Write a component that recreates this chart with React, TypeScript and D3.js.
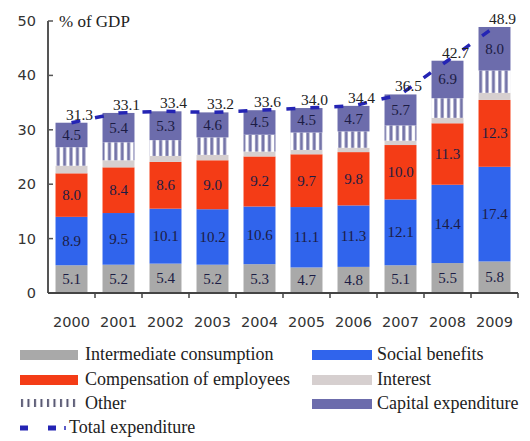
import React from "react";
import * as d3 from "d3";

const years = ["2000","2001","2002","2003","2004","2005","2006","2007","2008","2009"];
const intermediate = [5.1,5.2,5.4,5.2,5.3,4.7,4.8,5.1,5.5,5.8];
const social = [8.9,9.5,10.1,10.2,10.6,11.1,11.3,12.1,14.4,17.4];
const compensation = [8.0,8.4,8.6,9.0,9.2,9.7,9.8,10.0,11.3,12.3];
const interest = [1.4,1.3,1.1,1.0,0.9,0.8,0.8,0.8,1.0,1.3];
const other = [3.4,3.3,2.9,3.2,3.1,3.2,3.0,2.8,3.6,4.1];
const capital = [4.5,5.4,5.3,4.6,4.5,4.5,4.7,5.7,6.9,8.0];
const total = [31.3,33.1,33.4,33.2,33.6,34.0,34.4,36.5,42.7,48.9];
const yTicks = [0,10,20,30,40,50];

const W = 530, H = 441;
const serif = "'Liberation Serif', 'Times New Roman', serif";
const sans = "'DejaVu Sans', Verdana, sans-serif";

const seriesDefs = [
  { key: "Intermediate consumption", values: intermediate, fill: "#a9a9a9", label: true },
  { key: "Social benefits", values: social, fill: "#3064ec", label: true },
  { key: "Compensation of employees", values: compensation, fill: "#f43c16", label: true },
  { key: "Interest", values: interest, fill: "#d6cfcf", label: false },
  { key: "Other", values: other, fill: "url(#hatch)", label: false },
  { key: "Capital expenditure", values: capital, fill: "#6c6cac", label: true },
];

export default function App() {
  const x = d3.scaleBand<string>().domain(years).range([48, 518]).paddingInner(0.32).paddingOuter(0.16);
  const y = d3.scaleLinear().domain([0, 50]).range([293, 21]);
  const bw = x.bandwidth();
  const step = x.step();

  const rows = years.map((yr, i) => {
    const o: any = { year: yr };
    seriesDefs.forEach(s => (o[s.key] = s.values[i]));
    return o;
  });
  const stacked = d3.stack<any>().keys(seriesDefs.map(s => s.key))(rows);

  const line = d3.line<number>()
    .x((_, i) => (x(years[i]) as number) + bw / 2)
    .y(d => y(d));

  const legend = [
    { key: "Intermediate consumption", col: 0, row: 0, fill: "#a9a9a9" },
    { key: "Social benefits", col: 1, row: 0, fill: "#3064ec" },
    { key: "Compensation of employees", col: 0, row: 1, fill: "#f43c16" },
    { key: "Interest", col: 1, row: 1, fill: "#d6cfcf" },
    { key: "Other", col: 0, row: 2, fill: "url(#hatchLeg)" },
    { key: "Capital expenditure", col: 1, row: 2, fill: "#6c6cac" },
  ];
  const rowY = [355, 380, 404, 428];
  const colX = [20, 312];

  return (
    <svg width={W} height={H} style={{ position: "absolute", left: 0, top: 0, background: "#fff" }}>
      <defs>
        <pattern id="hatch" patternUnits="userSpaceOnUse" width={6.4} height={10} x={x(years[0]) as number}>
          <rect width={6.4} height={10} fill="#ffffff" />
          <rect x={1.2} width={3} height={10} fill="#7474a8" />
        </pattern>
        <pattern id="hatchLeg" patternUnits="userSpaceOnUse" width={6.5} height={10} x={20}>
          <rect width={6.5} height={10} fill="#ffffff" />
          <rect x={1} width={2} height={10} fill="#555570" />
        </pattern>
      </defs>
      <rect width={W} height={H} fill="#fff" />

      {stacked.map((layer, li) => (
        <g key={layer.key}>
          {layer.map((d, i) => (
            <rect key={i} x={x(years[i])} y={y(d[1])} width={bw} height={y(d[0]) - y(d[1])} fill={seriesDefs[li].fill} />
          ))}
        </g>
      ))}

      {stacked.map((layer, li) =>
        seriesDefs[li].label ? (
          <g key={"l" + layer.key}>
            {layer.map((d, i) => (
              <text key={i} x={(x(years[i]) as number) + bw / 2} y={(y(d[0]) + y(d[1])) / 2 + 5}
                textAnchor="middle" fontFamily={serif} fontSize={15} fill="#1c1c44">
                {seriesDefs[li].values[i].toFixed(1)}
              </text>
            ))}
          </g>
        ) : null
      )}

      <path d={line(total) || ""} fill="none" stroke="#2424b4" strokeWidth={3.5} strokeDasharray="9 15" />
      {total.map((t, i) => (
        <text key={i} x={(x(years[i]) as number) + bw / 2 + 8} y={y(t) - 3} textAnchor="middle"
          fontFamily={serif} fontSize={15.5} fill="#222">
          {t.toFixed(1)}
        </text>
      ))}

      <line x1={48} x2={48} y1={y(0)} y2={y(50)} stroke="#555" strokeWidth={2} />
      {yTicks.map(t => (
        <g key={t}>
          <line x1={48} x2={53} y1={y(t)} y2={y(t)} stroke="#555" strokeWidth={1.5} />
          <text x={36} y={y(t) + 5} textAnchor="end" fontFamily={sans} fontSize={14.5} fill="#333">{t}</text>
        </g>
      ))}
      <text x={59} y={27} fontFamily={serif} fontSize={17} fill="#222">% of GDP</text>

      <line x1={48} x2={518} y1={y(0)} y2={y(0)} stroke="#444" strokeWidth={2} />
      {years.map((yr, i) => (
        <g key={yr}>
          <line x1={48 + step * (i + 1)} x2={48 + step * (i + 1)} y1={y(0)} y2={y(0) + 5} stroke="#444" strokeWidth={1.5} />
          <text x={(x(yr) as number) + bw / 2} y={327} textAnchor="middle" fontFamily={sans} fontSize={14.5} fill="#333">{yr}</text>
        </g>
      ))}

      {legend.map(l => (
        <g key={l.key}>
          <rect x={colX[l.col]} y={rowY[l.row] - 5} width={l.col === 0 ? 58 : 60} height={l.key === "Other" ? 8 : 10} fill={l.fill} />
          <text x={colX[l.col] + 65} y={rowY[l.row] + 5} fontFamily={serif} fontSize={18} fill="#222">{l.key}</text>
        </g>
      ))}
      <line x1={20} x2={57} y1={rowY[3]} y2={rowY[3]} stroke="#2424b4" strokeWidth={5} strokeDasharray="8 20" />
      <line x1={65} x2={65} y1={rowY[3] - 2} y2={rowY[3] + 2} stroke="#2424b4" strokeWidth={1.5} />
      <text x={69} y={rowY[3] + 5} fontFamily={serif} fontSize={18} fill="#222">Total expenditure</text>
    </svg>
  );
}
